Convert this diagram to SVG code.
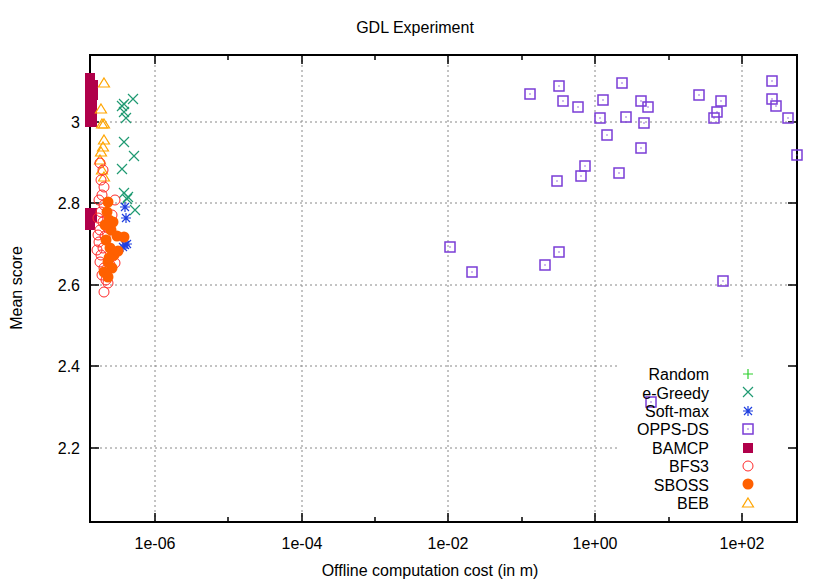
<svg xmlns="http://www.w3.org/2000/svg" width="830" height="581" viewBox="0 0 830 581">
<style>
text{font-family:"Liberation Sans",Arial,sans-serif;font-size:16px;fill:#000}
.grid{stroke:#888;stroke-width:1;stroke-dasharray:2,3;fill:none}
.ax{stroke:#000;stroke-width:2;fill:none}
.tk{stroke:#000;stroke-width:1.5}
.op{fill:none;stroke:#7a3cd6;stroke-width:1.5}
.eg{stroke:#1f9a72;stroke-width:1.2;fill:none}
.sm{stroke:#1e3fe0;stroke-width:1.2;fill:none}
.bf{fill:none;stroke:#ff2a2a;stroke-width:1}
.sb{fill:#ff6000}
.be{fill:none;stroke:#ffa500;stroke-width:1.2}
.bm{fill:#b0004a}
</style>
<defs>
<g id="sq"><rect x="-5" y="-5" width="10" height="10" class="op"/><rect x="-0.6" y="-0.6" width="1.2" height="1.2" fill="#7a3cd6"/></g>
<path id="x" d="M-5,-5L5,5M-5,5L5,-5" class="eg"/>
<path id="as" d="M-5,0H5M0,-5V5M-4,-4L4,4M-4,4L4,-4" class="sm"/>
<circle id="c" r="5" class="bf"/>
<circle id="f" r="5.5" class="sb"/>
<path id="t" d="M0,-5L5.5,4H-5.5Z" class="be"/>
<path id="p" d="M-5,0H5M0,-5V5" stroke="#2dd02d" stroke-width="1.2"/>
</defs>
<rect width="830" height="581" fill="#fff"/>
<text x="415" y="33" text-anchor="middle">GDL Experiment</text>
<g id="grid">
<path class="grid" d="M90,448H797M90,366H797M90,285H797M90,203H797M90,122H797M155,55V522M302,55V522M448,55V522M595,55V522M742,55V522"/>
</g>
<rect x="620" y="358" width="172" height="155" fill="#fff"/>
<g id="axes">
<rect x="90" y="55" width="707" height="467" class="ax"/>
<path class="tk" d="M90,448h9M90,366h9M90,285h9M90,203h9M90,122h9M797,448h-9M797,366h-9M797,285h-9M797,203h-9M797,122h-9M155,522v-9M302,522v-9M448,522v-9M595,522v-9M742,522v-9M155,55v9M302,55v9M448,55v9M595,55v9M742,55v9M228,522v-5M375,522v-5M522,522v-5M669,522v-5M228,55v5M375,55v5M522,55v5M669,55v5"/>
<g text-anchor="end">
<text x="80" y="454">2.2</text><text x="80" y="372">2.4</text><text x="80" y="291">2.6</text><text x="80" y="209">2.8</text><text x="80" y="128">3</text>
</g>
<g text-anchor="middle">
<text x="155" y="549">1e-06</text><text x="302" y="549">1e-04</text><text x="448" y="549">1e-02</text><text x="595" y="549">1e+00</text><text x="742" y="549">1e+02</text>
<text x="430" y="576">Offline computation cost (in m)</text>
<text transform="translate(22,288) rotate(-90)">Mean score</text>
</g>
</g>
<g id="OPPS-DS">
<use href="#sq" x="530" y="94"/><use href="#sq" x="559" y="86"/><use href="#sq" x="563" y="101"/><use href="#sq" x="578" y="107"/><use href="#sq" x="603" y="100"/><use href="#sq" x="622" y="83"/><use href="#sq" x="600" y="118"/><use href="#sq" x="626" y="117"/><use href="#sq" x="641" y="101"/><use href="#sq" x="648" y="107"/><use href="#sq" x="644" y="123"/><use href="#sq" x="607" y="135"/><use href="#sq" x="641" y="148"/><use href="#sq" x="585" y="166"/><use href="#sq" x="581" y="176"/><use href="#sq" x="557" y="181"/><use href="#sq" x="619" y="173"/><use href="#sq" x="699" y="95"/><use href="#sq" x="721" y="101"/><use href="#sq" x="717" y="112"/><use href="#sq" x="714" y="118"/><use href="#sq" x="772" y="81"/><use href="#sq" x="772" y="99"/><use href="#sq" x="776" y="106"/><use href="#sq" x="788" y="118"/><use href="#sq" x="797" y="155"/><use href="#sq" x="450" y="247"/><use href="#sq" x="472" y="272"/><use href="#sq" x="559" y="252"/><use href="#sq" x="545" y="265"/><use href="#sq" x="723" y="281"/><use href="#sq" x="651" y="402"/>
</g>
<g id="BAMCP">
<path class="bm" d="M85,73H95V80H98V100H97V127H85Z"/>
<path class="bm" d="M85,208H97V222H95V230H85Z"/>
</g>
<g id="e-Greedy">
<use href="#x" x="133" y="99"/><use href="#x" x="124" y="104"/><use href="#x" x="122" y="106"/><use href="#x" x="124" y="112"/><use href="#x" x="126" y="118"/><use href="#x" x="124" y="142"/><use href="#x" x="134" y="156"/><use href="#x" x="122" y="169"/><use href="#x" x="124" y="193"/><use href="#x" x="128" y="197"/><use href="#x" x="127" y="199"/><use href="#x" x="135" y="210"/>
</g>
<g id="BEB">
<use href="#t" x="104" y="83"/><use href="#t" x="101" y="109"/><use href="#t" x="102" y="124"/><use href="#t" x="104" y="124"/><use href="#t" x="104" y="140"/><use href="#t" x="103" y="147"/><use href="#t" x="101" y="152"/><use href="#t" x="100" y="160"/><use href="#t" x="102" y="170"/><use href="#t" x="104" y="177"/>
</g>
<g id="BFS3">
<use href="#c" x="100" y="163"/><use href="#c" x="103" y="170"/><use href="#c" x="101" y="180"/><use href="#c" x="104" y="187"/><use href="#c" x="102" y="195"/><use href="#c" x="99" y="200"/><use href="#c" x="104" y="205"/><use href="#c" x="101" y="212"/><use href="#c" x="98" y="218"/><use href="#c" x="103" y="222"/><use href="#c" x="100" y="230"/><use href="#c" x="105" y="236"/><use href="#c" x="99" y="242"/><use href="#c" x="103" y="248"/><use href="#c" x="101" y="255"/><use href="#c" x="100" y="262"/><use href="#c" x="104" y="268"/><use href="#c" x="102" y="275"/><use href="#c" x="106" y="280"/><use href="#c" x="108" y="283"/><use href="#c" x="104" y="292"/><use href="#c" x="110" y="265"/><use href="#c" x="115" y="263"/><use href="#c" x="113" y="256"/><use href="#c" x="108" y="228"/><use href="#c" x="112" y="215"/><use href="#c" x="115" y="200"/><use href="#c" x="97" y="250"/><use href="#c" x="98" y="235"/>
</g>
<g id="Soft-max">
<use href="#as" x="125" y="207"/><use href="#as" x="126" y="218"/><use href="#as" x="125" y="245"/><use href="#as" x="123" y="247"/><use href="#as" x="127" y="244"/>
</g>
<g id="SBOSS">
<use href="#f" x="108" y="202"/><use href="#f" x="107" y="212"/><use href="#f" x="109" y="220"/><use href="#f" x="111" y="230"/><use href="#f" x="106" y="240"/><use href="#f" x="110" y="248"/><use href="#f" x="114" y="255"/><use href="#f" x="108" y="262"/><use href="#f" x="112" y="268"/><use href="#f" x="104" y="272"/><use href="#f" x="108" y="277"/><use href="#f" x="117" y="236"/><use href="#f" x="124" y="237"/><use href="#f" x="113" y="222"/><use href="#f" x="105" y="225"/><use href="#f" x="109" y="258"/><use href="#f" x="118" y="251"/>
</g>
<g id="legend">
<g text-anchor="end">
<text x="709" y="380">Random</text><text x="709" y="399">e-Greedy</text><text x="709" y="417">Soft-max</text><text x="709" y="435">OPPS-DS</text><text x="709" y="454">BAMCP</text><text x="709" y="472">BFS3</text><text x="709" y="491">SBOSS</text><text x="709" y="509">BEB</text>
</g>
<use href="#p" x="748" y="374"/><use href="#x" x="748" y="392"/><use href="#as" x="748" y="411"/><use href="#sq" x="748" y="429"/>
<rect x="743" y="443" width="10" height="10" class="bm"/>
<use href="#c" x="748" y="466"/><use href="#f" x="748" y="484"/><use href="#t" x="748" y="503"/>
</g>
</svg>
